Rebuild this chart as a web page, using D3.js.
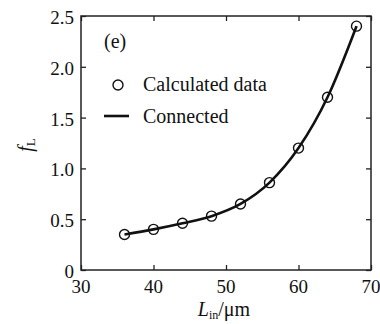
<!DOCTYPE html>
<html>
<head>
<meta charset="utf-8">
<script src="https://cdn.jsdelivr.net/npm/d3@7"></script>
<style>
  body { margin: 0; background: #fff; }
  #display { position: relative; width: 380px; height: 324px; }
  #display svg { position: absolute; left: 0; top: 0; }
  .lbl {
    position: absolute;
    white-space: nowrap;
    font-family: "Liberation Serif", "Times New Roman", serif;
    line-height: 1;
    color: #111;
  }
  .sub { font-size: 12px; position: relative; top: 3px; }
</style>
</head>
<body>
<div id="display"></div>
<script>
const w = 380;
const h = 324;
const margin = { top: 16, right: 9, bottom: 54, left: 81 };

const lengths = [36, 40, 44, 48, 52, 56, 60, 64, 68];
const fValues = [0.35, 0.40, 0.46, 0.53, 0.65, 0.86, 1.20, 1.70, 2.40];
const xTicks = [30, 40, 50, 60, 70];
const yTicks = [0, 0.5, 1.0, 1.5, 2.0, 2.5];
const yTickLabels = ['0', '0.5', '1.0', '1.5', '2.0', '2.5'];

const display = d3.select('#display');
const svg = display.append('svg')
    .attr('width', w)
    .attr('height', h);

const xScale = d3.scaleLinear().domain([30, 70]).range([margin.left, w - margin.right]);
const yScale = d3.scaleLinear().domain([0, 2.5]).range([h - margin.bottom, margin.top]);

// text goes in html so the serif face is used; baseline = top + 0.84 * size
const addLabel = (x, baseline, html, size, anchor = 'start') => {
    const shift = anchor === 'middle' ? '-50%' : anchor === 'end' ? '-100%' : '0';
    return display.append('div')
        .attr('class', 'lbl')
        .style('left', `${x}px`)
        .style('top', `${baseline - 0.84 * size}px`)
        .style('font-size', `${size}px`)
        .style('transform', `translateX(${shift})`)
        .html(html);
};

// inward ticks on all four sides, labels drawn separately
const tickLen = 5;
svg.append('g')
    .attr('transform', `translate(0,${h - margin.bottom})`)
    .call(d3.axisBottom(xScale).tickValues(xTicks).tickSize(-tickLen).tickFormat(''))
    .call(g => g.select('.domain').remove());
svg.append('g')
    .attr('transform', `translate(0,${margin.top})`)
    .call(d3.axisTop(xScale).tickValues(xTicks).tickSize(-tickLen).tickFormat(''))
    .call(g => g.select('.domain').remove());
svg.append('g')
    .attr('transform', `translate(${margin.left},0)`)
    .call(d3.axisLeft(yScale).tickValues(yTicks).tickSize(-tickLen).tickFormat(''))
    .call(g => g.select('.domain').remove());
svg.append('g')
    .attr('transform', `translate(${w - margin.right},0)`)
    .call(d3.axisRight(yScale).tickValues(yTicks).tickSize(-tickLen).tickFormat(''))
    .call(g => g.select('.domain').remove());
svg.selectAll('.tick line').attr('stroke', '#222').attr('stroke-width', 1.3);

xTicks.forEach((v) => addLabel(xScale(v), 293, v, 19, 'middle'));
yTicks.forEach((v, i) => addLabel(margin.left - 7, yScale(v) + 8, yTickLabels[i], 19, 'end'));

// frame
svg.append('rect')
    .attr('x', margin.left)
    .attr('y', margin.top)
    .attr('width', w - margin.left - margin.right)
    .attr('height', h - margin.top - margin.bottom)
    .attr('fill', 'none')
    .attr('stroke', '#222')
    .attr('stroke-width', 1.5);

// connected curve
const lineMaker = d3.line()
    .x((d, i) => xScale(lengths[i]))
    .y(d => yScale(d))
    .curve(d3.curveMonotoneX);

svg.append('path')
    .datum(fValues)
    .attr('d', lineMaker)
    .attr('fill', 'none')
    .attr('stroke', '#111')
    .attr('stroke-width', 2.6);

svg.selectAll('.pt')
    .data(fValues)
    .enter()
    .append('circle')
    .attr('class', 'pt')
    .attr('cx', (d, i) => xScale(lengths[i]))
    .attr('cy', d => yScale(d))
    .attr('r', 5)
    .attr('fill', 'none')
    .attr('stroke', '#111')
    .attr('stroke-width', 1.4);

// panel tag and legend
addLabel(104, 48, '(e)', 20);

svg.append('circle').attr('cx', 118).attr('cy', 85).attr('r', 5)
    .attr('fill', 'none').attr('stroke', '#111').attr('stroke-width', 1.4);
addLabel(143, 91, 'Calculated data', 20);

svg.append('line').attr('x1', 104).attr('x2', 129).attr('y1', 116).attr('y2', 116)
    .attr('stroke', '#111').attr('stroke-width', 2.6);
addLabel(143, 123, 'Connected', 20);

// axis titles
addLabel(224, 316, '<i>L</i><span class="sub">in</span>/μm', 20, 'middle');

display.append('div')
    .attr('class', 'lbl')
    .style('left', '25px')
    .style('top', '145px')
    .style('font-size', '20px')
    .style('transform', 'translate(-50%,-50%) rotate(-90deg)')
    .html('<i>f</i><span class="sub" style="font-size:13px">L</span>');
</script>
</body>
</html>
